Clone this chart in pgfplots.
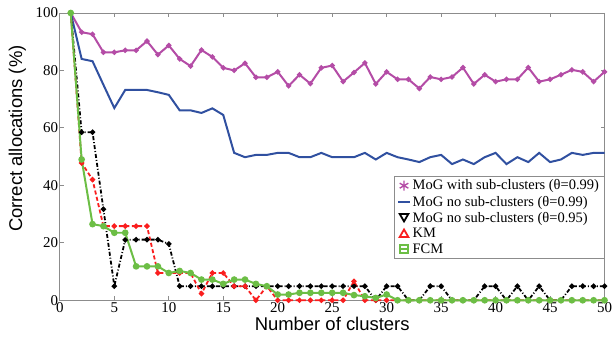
\documentclass[border=0pt]{standalone}
\usepackage{fontspec}
\setmainfont{Liberation Serif}
\newfontfamily\arialfont{Liberation Sans}
\usepackage{pgfplots}
\pgfplotsset{compat=1.18}
\usetikzlibrary{plotmarks}
\definecolor{cmag}{RGB}{180,76,166}
\definecolor{cblue}{RGB}{48,80,160}
\definecolor{cred}{RGB}{250,30,30}
\definecolor{cgreen}{RGB}{108,190,69}
\definecolor{cax}{RGB}{140,140,140}
\begin{document}
\begin{tikzpicture}
\begin{axis}[
  name=ax,
  scale only axis,
  width=546pt, height=288pt,
  xmin=0, xmax=50, ymin=0, ymax=100,
  xtick={0,5,...,50}, ytick={0,20,...,100},
  tick align=inside,
  major tick length=4pt,
  axis line style={cax, line width=0.8pt},
  every tick/.style={cax, line width=0.8pt},
  /pgf/number format/assume math mode=true,
  tick label style={font=\fontsize{15}{17}\selectfont},
  xticklabel style={inner sep=1pt, yshift=-1.5pt},
  yticklabel style={inner sep=1.5pt},
  xlabel={Number of clusters},
  ylabel={Correct allocations (\%)},
  label style={font=\arialfont\fontsize{18.5}{21}\selectfont},
  xlabel style={at={(axis description cs:0.5,-0.083)}, anchor=center},
  ylabel style={at={(axis description cs:-0.078,0.5625)}, anchor=center},
  legend style={at={(axis description cs:0.6136,0.434)}, anchor=north west,
    draw=cax, fill=white, line width=0.6pt, font=\fontsize{14.5}{16}\selectfont,
    inner xsep=3pt, inner ysep=2pt, row sep=0.5pt},
  legend cell align=left,
  clip=false,
]
\addplot[cmag, line width=2pt, mark=*, mark size=1.5pt,
  legend image code/.code={\draw[solid, cmag, line width=1.4pt, mark=asterisk, mark size=5pt] plot coordinates {(0.22cm,0)};}]
coordinates {
(1,100)(2,93.3)(3,92.6)(4,86.3)(5,86.3)(6,87.0)(7,87.0)(8,90.2)(9,85.5)(10,88.7)
(11,84.0)(12,81.5)(13,87.1)(14,84.7)(15,80.9)(16,80.0)(17,82.5)(18,77.6)(19,77.6)(20,79.5)
(21,74.6)(22,78.5)(23,75.4)(24,80.9)(25,81.7)(26,76.1)(27,79.3)(28,82.6)(29,75.3)(30,79.5)
(31,76.9)(32,76.9)(33,73.7)(34,77.7)(35,76.9)(36,77.7)(37,81.0)(38,75.3)(39,78.5)(40,76.1)
(41,76.9)(42,76.9)(43,81.0)(44,76.1)(45,76.9)(46,78.5)(47,80.2)(48,79.5)(49,76.1)(50,79.5)
};
\addlegendentry{MoG with sub-clusters (θ=0.99)}
\addplot[cblue, line width=2pt, mark=none,
  legend image code/.code={\draw[solid, draw=cblue, line width=2pt] (0.02cm,0) -- (0.42cm,0);}]
coordinates {
(1,100)(2,84.0)(3,83.2)(4,75.0)(5,66.9)(6,73.2)(7,73.2)(8,73.2)(9,72.4)(10,71.5)
(11,66.1)(12,66.1)(13,65.2)(14,66.8)(15,64.5)(16,51.3)(17,49.8)(18,50.6)(19,50.6)(20,51.3)
(21,51.3)(22,49.8)(23,49.8)(24,51.3)(25,49.8)(26,49.8)(27,49.8)(28,51.3)(29,49.0)(30,51.3)
(31,49.8)(32,49.0)(33,48.1)(34,49.8)(35,50.6)(36,47.4)(37,49.0)(38,47.4)(39,49.8)(40,51.3)
(41,47.4)(42,49.8)(43,48.1)(44,51.3)(45,48.1)(46,49.0)(47,51.3)(48,50.6)(49,51.3)(50,51.3)
};
\addlegendentry{MoG no sub-clusters (θ=0.99)}
\addplot[black, line width=1.8pt, dash pattern=on 4pt off 2pt on 1pt off 2pt, mark=*, mark size=1.7pt, mark options={solid},
  legend image code/.code={\draw[solid, black, line width=1.8pt, mark=triangle, mark size=5pt, mark options={solid, rotate=180}] plot coordinates {(0.22cm,0.05cm)};}]
coordinates {
(1,100)(2,58.5)(3,58.5)(4,31.7)(5,4.9)(6,21.0)(7,21.1)(8,21.1)(9,21.1)(10,19.6)
(11,4.9)(12,4.9)(13,4.9)(14,4.9)(15,4.9)(16,4.9)(17,4.9)(18,4.9)(19,4.9)(20,4.9)
(21,4.9)(22,4.9)(23,4.9)(24,4.9)(25,4.9)(26,4.9)(27,4.9)(28,4.9)(29,0)(30,4.9)
(31,4.9)(32,0)(33,0)(34,4.9)(35,4.9)(36,0)(37,0)(38,0)(39,4.9)(40,4.9)
(41,0)(42,4.9)(43,0)(44,4.9)(45,0)(46,0)(47,4.9)(48,4.9)(49,4.9)(50,4.9)
};
\addlegendentry{MoG no sub-clusters (θ=0.95)}
\addplot[cred, line width=1.8pt, dash pattern=on 4pt off 2.5pt, mark=*, mark size=1.7pt, mark options={solid},
  legend image code/.code={\draw[solid, cred, line width=1.8pt, mark=triangle, mark size=5pt, mark options={solid}] plot coordinates {(0.22cm,-0.03cm)};}]
coordinates {
(1,100)(2,47.8)(3,42.0)(4,25.8)(5,25.8)(6,25.8)(7,25.8)(8,25.8)(9,9.5)(10,9.5)
(11,9.5)(12,9.5)(13,2.3)(14,9.5)(15,9.5)(16,4.9)(17,4.9)(18,0)(19,4.9)(20,0)
(21,0)(22,0)(23,0)(24,0)(25,0)(26,0)(27,6.6)(28,0)(29,0)(30,0)
(31,0)(32,0)(33,0)(34,0)(35,0)(36,0)(37,0)(38,0)(39,0)(40,0)
(41,0)(42,0)(43,0)(44,0)(45,0)(46,0)(47,0)(48,0)(49,0)(50,0)
};
\addlegendentry{KM}
\addplot[cgreen, line width=2pt, mark=*, mark size=2.3pt,
  legend image code/.code={\draw[solid, cgreen, line width=1.8pt] (0.04cm,0) -- (0.40cm,0); \draw[solid, cgreen, line width=1.8pt, mark=square, mark size=4pt] plot coordinates {(0.22cm,0)};}]
coordinates {
(1,100)(2,49.0)(3,26.5)(4,25.8)(5,23.5)(6,23.5)(7,11.8)(8,11.8)(9,11.8)(10,9.5)
(11,10.2)(12,9.5)(13,7.2)(14,7.2)(15,5.7)(16,7.2)(17,7.2)(18,5.7)(19,4.9)(20,2.0)
(21,2.0)(22,2.6)(23,2.6)(24,2.6)(25,2.6)(26,2.6)(27,1.8)(28,1.4)(29,0.8)(30,2.0)
(31,0)(32,0)(33,0)(34,0)(35,0)(36,0)(37,0)(38,0)(39,0)(40,0)
(41,0)(42,0)(43,0)(44,0)(45,0)(46,0)(47,0)(48,0)(49,0)(50,0)
};
\addlegendentry{FCM}
\end{axis}
\path (ax.south west) ++(-60pt,-39pt) rectangle ++(613pt,340pt);
\end{tikzpicture}
\end{document}
